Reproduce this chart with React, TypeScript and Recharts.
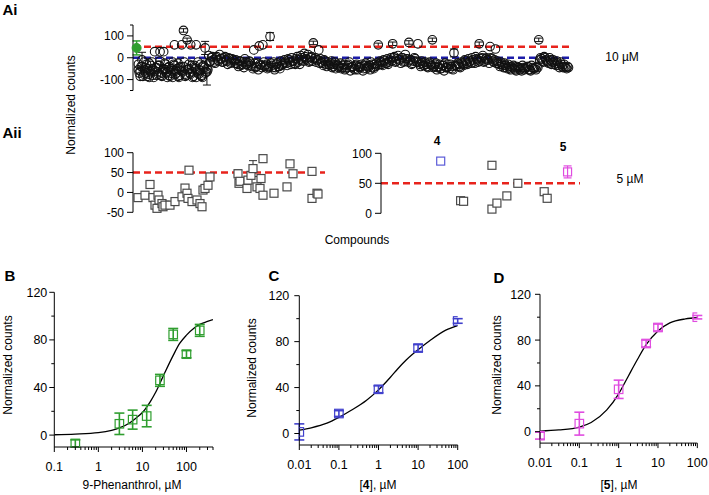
import React from "react";
import {
  ComposedChart,
  ScatterChart,
  Scatter,
  Line,
  XAxis,
  YAxis,
  ErrorBar,
  ReferenceLine
} from "recharts";

// ---- Ai: screening at 10 µM (compound order -> normalized counts)
const aiControlX = [0];
const aiControlY = [45];
const aiControlErr = [32];

// x = 1..239
const aiSeries = [
  -30, -60, -10, -75, -45, -85, -25, -65, -50, 28, -80, -35, 28, -70, 28, -55, -90, -40, -70, -20,
  59, -60, -85, -45, 59, 125, -75, 82, -50, 59, -90, -35, 59, -70, -55, -85, -40, 45, -65,
  10, -15, 5, -20, 0, -10,
  15, -5, -20, 5, -15, 0, -25, -5, -15,
  -10, -30, -15, -35, -20, -5, -30, -25,
  -20, -40, 36, -45, -25, 54, -35, 59, -40, -30, -45,
  97,
  -35, -20, -45, -25, -40, -15, -30,
  -10, -25, -5, -20, 0, -15, -30, 5, -10,
  10, -10, 20, -5, 15, -15, 5,
  68, 0, -10, 36,
  -5, -25, -10, -30, -20,
  -35, -15, -40, -20, -30, -45,
  -25, -45, -30, -50, -35, -20, -45, -40, -55, -30, -40,
  -45, -30, -50, -25, -40, -35, -20, -45, -30, -25,
  59,
  -15, -30, -10, -25, -5, -20,
  0, 64,
  5, -15, 10, -10, 0, -20, 15, -5,
  70,
  -10, -25, 0, -15,
  64,
  -30, -15, -35, -20, -40, -25, -30,
  82,
  -40, -25, -45, -30, -50, -35, -25, -45, -40, -30, -50,
  22,
  -35, -25, -40, -20, -30, -10, -25, -5, -15, 0, -20, 5, -10,
  64,
  -5, 10, -15, 0, -10,
  51, -5, -20, 40,
  -15, -30, -20, -35, -25, -45, -30, -50, -40, -35, -55, -40, -45,
  -50, -35, -55, -45, -40, -55, -35, -50, -45, -40,
  82,
  0, -15, 5, -10, -20, 0,
  -30,
  -10, -30, -15, -35, -20, -40, -30, -45, -40
];
// second replicate in the dense low band, x = 1..39
const aiBandExtra = [
  -55, -85, -40, -20, -70, -50, -90, -35, -80, -60, -45, -75, -15, -85, -50, -30, -65, -80, -50, -90,
  -35, -70, -25, -80, -60, -40, -85, -55, -30, -75, -65, -45, -90, -20, -60, -80, -35, -70, -50
];
// interleaved replicate, x = 1.5..239.5
const aiReplicate = [
  -70, -40, -85, -55, -30, -75, -60, -20, -90, -45, -65, -35, -80, -55, -25, -70, -45, -85, -60, -30,
  -75, -50, -90, -40, -65, -20, -80, -55, -70, -35, -85, -50, -60, -75, -30, -90, -45, -65, -55,
  -20, 0, -10, -25, 5, -15, -5, -20, 0, -10, -30, -5, -20, -10, -25,
  -25, -40, -15, -30, -45, -20, -35, -15,
  -35, -50, -25, -40, -55, -30, -45, -20, -35, -50, -40, -25, -45, -55, -30, -40, -50, -35, -25,
  -20, -35, -10, -30, -15, -25, -5, -20, -30,
  0, -15, 5, -10, -20, 0, -15, -5, -20, -10, -25,
  -20, -35, -15, -40, -30, -25, -45, -30, -50, -35, -40,
  -50, -35, -55, -45, -30, -60, -40, -50, -35, -55, -45, -40, -60, -35, -50, -45, -55, -30, -50, -40, -35,
  -30, -20, -35, -15, -25, -30, -10,
  -15, 0, -20, -5, -10, -25, 0, -15, -5, -20, -10, -30, -15, -5, -20,
  -20, -40, -25, -35, -30, -45, -20, -35,
  -45, -30, -55, -40, -50, -35, -60, -45, -30, -50, -40, -55, -35,
  -40, -30, -45, -25, -35, -15, -30, -20, -25, -10, -25, -5, -20,
  -15, 0, -20, -5, -10, -25, 0, -15, -10, -25,
  -25, -40, -30, -45, -35, -50, -40, -55, -45, -50, -60, -45, -55, -60, -45, -50, -40, -55, -60, -45, -50, -55, -45,
  -10, -5, -20, 0, -15, -25, -10, -20,
  -20, -35, -25, -45, -30, -45, -40, -50, -45
];
const aiErrIndex = [3, 26, 28, 38, 39, 74, 98, 134, 142, 151, 164, 176, 190, 223];
const aiErrSize = [35, 8, 8, 30, 60, 18, 8, 8, 8, 8, 8, 18, 8, 8];

// ---- Aii: 5 µM, two groups
const aiiLeftX = [5, 12, 17, 20, 22, 24, 25, 26, 29, 30, 32, 37, 42, 49, 52, 54, 55, 56, 59, 64, 67, 69, 70, 72, 75, 77,
  105, 106, 107, 114, 115, 118, 120, 124, 127, 128, 130, 130, 141, 154, 157, 160, 179, 179, 184, 185];
const aiiLeftY = [-13, -7, 20, -13, -32, -40, -7, -19, -28, -36, -32, -32, -23, -11, 11, -2, -15, 56, -23, -19, -28, -36, 6, 10, 18, 39,
  47, 23, 28, 10, 31, 43, 60, 14, 10, 35, 85, -7, -2, 14, 72, 47, 53, -15, -2, -4];
const aiiLeftErrX = [105, 120];
const aiiLeftErrY = [47, 60];
const aiiLeftErr = [10, 20];

const aiiRightX = [16, 16.6, 22.3, 22.3, 23.3, 25.3, 27.5, 32.8, 33.4];
const aiiRightY = [21, 20, 80, 7, 17, 29, 50, 36, 25];
const cmpd4X = [12];
const cmpd4Y = [87];
const cmpd5X = [37.5];
const cmpd5Y = [69];
const cmpd5Err = [10];

// ---- B: 9-Phenanthrol
const bConc = [0.3, 3, 6, 12.5, 25, 50, 100, 200];
const bResp = [-7, 9.5, 13, 16, 46, 84.6, 68, 88];
const bErr = [3, 9, 8, 9, 5, 5, 3, 5];
const bFitConc = [0.1, 0.3, 1, 2, 3, 5, 7, 10, 15, 20, 30, 50, 70, 100, 150, 200, 300, 400];
const bFitResp = [0.3, 0.8, 2, 4, 6, 10, 14, 19, 28, 36, 50, 67, 77, 84, 90, 93, 95.5, 97];

// ---- C: compound 4
const cConc = [0.01, 0.1, 1, 10, 100];
const cResp = [1.4, 17.4, 38.5, 74.4, 98];
const cErr = [7, 2.5, 3, 3, 2];
const cFitConc = [0.01, 0.02, 0.05, 0.1, 0.2, 0.5, 1, 2, 3, 5, 10, 20, 50, 100];
const cFitResp = [3, 5, 9, 14, 20, 29, 38, 49, 56, 64, 73, 81, 90, 94];

// ---- D: compound 5
const dConc = [0.01, 0.1, 1, 5, 10, 100];
const dResp = [-3.5, 7, 37, 77, 91, 100];
const dErr = [3, 10, 8, 3, 3, 1.5];
const dFitConc = [0.01, 0.03, 0.1, 0.2, 0.5, 1, 1.5, 2, 3, 5, 10, 20, 50, 100];
const dFitResp = [0.5, 1.5, 4, 8, 19, 33, 44, 52, 63, 76, 88, 95, 98.5, 99.5];

const doseYTicks = [0, 20, 40, 60, 80, 100, 120];
const doseYMajor = [0, 40, 80, 120];
const bXTicks = [0.1, 0.2, 0.3, 0.4, 0.5, 0.6, 0.7, 0.8, 0.9, 1, 2, 3, 4, 5, 6, 7, 8, 9,
  10, 20, 30, 40, 50, 60, 70, 80, 90, 100, 200, 300, 400];
const bXMajor = [0.1, 1, 10, 100];
const cdXTicks = [0.01, 0.02, 0.03, 0.04, 0.05, 0.06, 0.07, 0.08, 0.09, 0.1, 0.2, 0.3, 0.4, 0.5, 0.6, 0.7, 0.8, 0.9,
  1, 2, 3, 4, 5, 6, 7, 8, 9, 10, 20, 30, 40, 50, 60, 70, 80, 90, 100];
const cdXMajor = [0.01, 0.1, 1, 10, 100];

const GREEN = "#2f9e2f";
const BLUE = "#4040cc";
const MAGENTA = "#e04ce0";
const RED = "#e8231c";
const NAVY = "#1c1ca8";
const FONT = "'Liberation Sans', Arial, Helvetica, sans-serif";

const zip = (xs: number[], ys: number[], es?: number[]) =>
  xs.map((x, i) => ({ x, y: ys[i], e: es ? es[i] : undefined }));

const aiErrMap: Record<number, number> = {};
aiErrIndex.forEach((idx, i) => (aiErrMap[idx] = aiErrSize[i]));
const aiData = aiSeries.map((v, i) => ({ x: i + 1, y: v, e: aiErrMap[i + 1] }));
const aiExtraData = aiBandExtra.map((v, i) => ({ x: i + 1, y: v }));
const aiRepData = aiReplicate.map((v, i) => ({ x: i + 1.5, y: v }));

function makeYTick(major: number[], fs: number, gap: number, tlen = 5) {
  return (p: any) => {
    const v = p.payload.value;
    const isMajor = major.includes(v);
    return (
      <g>
        <line x1={p.x} x2={p.x - (isMajor ? tlen : 3)} y1={p.y} y2={p.y} stroke="#000" strokeWidth={1} />
        {isMajor && (
          <text x={p.x - gap} y={p.y} dy={fs * 0.36} textAnchor="end" fontSize={fs} fill="#000">
            {v}
          </text>
        )}
      </g>
    );
  };
}

function makeXTick(major: number[], fs: number, dy: number) {
  return (p: any) => {
    const v = p.payload.value;
    const isMajor = major.some((m) => Math.abs(m - v) < 1e-9);
    return (
      <g>
        <line x1={p.x} x2={p.x} y1={p.y} y2={p.y + (isMajor ? 5 : 3)} stroke="#000" strokeWidth={1} />
        {isMajor && (
          <text x={p.x} y={p.y + dy} textAnchor="middle" fontSize={fs} fill="#000">
            {String(v)}
          </text>
        )}
      </g>
    );
  };
}

const circleShape = (p: any) => (
  <circle cx={p.cx} cy={p.cy} r={4.3} fill="none" stroke="#111" strokeWidth={1.1} />
);
const dotShape = (color: string) => (p: any) => (
  <circle cx={p.cx} cy={p.cy} r={4.5} fill={color} stroke={color} />
);
const squareShape = (color: string, fill: string, s = 8) => (p: any) => (
  <rect x={p.cx - s / 2} y={p.cy - s / 2} width={s} height={s} fill={fill} stroke={color} strokeWidth={1.2} />
);

const Txt = ({ x, y, size = 12, bold = false, rotate = false, children }: any) => (
  <div
    style={{
      position: "absolute",
      left: x,
      top: y,
      fontSize: size,
      fontWeight: bold ? 700 : 400,
      whiteSpace: "nowrap",
      lineHeight: 1,
      transform: `translate(-50%, -50%)${rotate ? " rotate(-90deg)" : ""}`
    }}
  >
    {children}
  </div>
);

function DoseChart(props: any) {
  const { left, top, width, height, margin, yWidth, xDomain, xTicks, xMajor, pts, curve, color, yGap } = props;
  return (
    <div style={{ position: "absolute", left, top }}>
      <ComposedChart width={width} height={height} margin={margin}>
        <XAxis
          dataKey="x"
          type="number"
          scale="log"
          domain={xDomain}
          allowDataOverflow
          ticks={xTicks}
          interval={0}
          tickSize={0}
          tickMargin={0}
          tickLine={false}
          axisLine={{ stroke: "#000" }}
          tick={makeXTick(xMajor, 12.5, 24)}
          height={30}
        />
        <YAxis
          dataKey="y"
          type="number"
          domain={[-10, 120]}
          allowDataOverflow
          ticks={doseYTicks}
          interval={0}
          tickSize={0}
          tickMargin={0}
          tickLine={false}
          axisLine={{ stroke: "#000" }}
          tick={makeYTick(doseYMajor, 12.5, yGap)}
          width={yWidth}
        />
        <Line
          data={curve}
          dataKey="y"
          type="monotone"
          stroke="#000"
          strokeWidth={1.3}
          dot={false}
          isAnimationActive={false}
        />
        <Scatter data={pts} dataKey="y" shape={squareShape(color, "none", 8.5)} isAnimationActive={false}>
          <ErrorBar dataKey="e" direction="y" width={5} stroke={color} strokeWidth={1.6} />
        </Scatter>
      </ComposedChart>
    </div>
  );
}

export default function App() {
  return (
    <div
      style={{
        position: "absolute",
        left: 0,
        top: 0,
        width: 709,
        height: 495,
        background: "#fff",
        fontFamily: FONT,
        color: "#000",
        overflow: "hidden"
      }}
    >
      {/* Ai */}
      <div style={{ position: "absolute", left: 0, top: 0 }}>
        <ScatterChart width={580} height={100} margin={{ top: 25, right: 7, bottom: 9.5, left: 0 }}>
          <XAxis dataKey="x" type="number" domain={[-2, 242]} hide />
          <YAxis
            dataKey="y"
            type="number"
            domain={[-150, 150]}
            allowDataOverflow
            ticks={[-150, -100, 0, 100, 150]}
            interval={0}
            tickSize={0}
            tickMargin={0}
            tickLine={false}
            axisLine={{ stroke: "#000" }}
            tick={makeYTick([-100, 0, 100], 12, 9, 6)}
            width={133}
          />
          <Scatter data={aiExtraData} shape={circleShape} isAnimationActive={false} />
          <Scatter data={aiRepData} shape={circleShape} isAnimationActive={false} />
          <Scatter data={aiData} shape={circleShape} isAnimationActive={false}>
            <ErrorBar dataKey="e" direction="y" width={4} stroke="#111" strokeWidth={1} />
          </Scatter>
          <Scatter data={zip(aiControlX, aiControlY, aiControlErr)} shape={dotShape(GREEN)} isAnimationActive={false}>
            <ErrorBar dataKey="e" direction="y" width={4} stroke={GREEN} strokeWidth={1.5} />
          </Scatter>
          <ReferenceLine y={50} stroke={RED} strokeWidth={2.5} strokeDasharray="7 4" />
          <ReferenceLine y={0} stroke={NAVY} strokeWidth={2.5} strokeDasharray="7 4" />
        </ScatterChart>
      </div>

      {/* Aii left */}
      <div style={{ position: "absolute", left: 80, top: 140 }}>
        <ScatterChart width={250} height={85} margin={{ top: 12.7, right: 5, bottom: 12.7, left: 0 }}>
          <XAxis dataKey="x" type="number" domain={[0, 192]} hide />
          <YAxis
            dataKey="y"
            type="number"
            domain={[-50, 100]}
            ticks={[-50, 0, 50, 100]}
            interval={0}
            tickSize={0}
            tickMargin={0}
            tickLine={false}
            axisLine={{ stroke: "#000" }}
            tick={makeYTick([-50, 0, 50, 100], 12, 9, 6)}
            width={53}
          />
          <Scatter data={zip(aiiLeftErrX, aiiLeftErrY, aiiLeftErr)} shape={() => <g />} isAnimationActive={false}>
            <ErrorBar dataKey="e" direction="y" width={4} stroke="#333" strokeWidth={1} />
          </Scatter>
          <Scatter data={zip(aiiLeftX, aiiLeftY)} shape={squareShape("#4a4a4a", "#fff", 8)} isAnimationActive={false} />
          <ReferenceLine y={50} stroke={RED} strokeWidth={2.5} strokeDasharray="7 4" />
        </ScatterChart>
      </div>

      {/* Aii right */}
      <div style={{ position: "absolute", left: 330, top: 140 }}>
        <ScatterChart width={255} height={85} margin={{ top: 13.3, right: 5, bottom: 11.7, left: 0 }}>
          <XAxis dataKey="x" type="number" domain={[0, 40]} hide />
          <YAxis
            dataKey="y"
            type="number"
            domain={[0, 100]}
            ticks={[0, 50, 100]}
            interval={0}
            tickSize={0}
            tickMargin={0}
            tickLine={false}
            axisLine={{ stroke: "#000" }}
            tick={makeYTick([0, 50, 100], 12, 9, 6)}
            width={51}
          />
          <Scatter data={zip(aiiRightX, aiiRightY)} shape={squareShape("#4a4a4a", "#fff", 8)} isAnimationActive={false} />
          <Scatter data={zip(cmpd4X, cmpd4Y)} shape={squareShape("#5a5ad8", "#fff", 8)} isAnimationActive={false} />
          <Scatter data={zip(cmpd5X, cmpd5Y, cmpd5Err)} shape={squareShape(MAGENTA, "none", 8)} isAnimationActive={false}>
            <ErrorBar dataKey="e" direction="y" width={4} stroke={MAGENTA} strokeWidth={1.2} />
          </Scatter>
          <ReferenceLine y={50} stroke={RED} strokeWidth={2.5} strokeDasharray="7 4" />
        </ScatterChart>
      </div>

      {/* B */}
      <DoseChart
        left={0}
        top={280}
        width={230}
        height={215}
        margin={{ top: 12.3, right: 17, bottom: 18, left: 0 }}
        yWidth={54.3}
        xDomain={[0.1, 400]}
        xTicks={bXTicks}
        xMajor={bXMajor}
        pts={zip(bConc, bResp, bErr)}
        curve={zip(bFitConc, bFitResp)}
        color={GREEN}
        yGap={7}
      />
      {/* C */}
      <DoseChart
        left={240}
        top={280}
        width={236}
        height={215}
        margin={{ top: 15.7, right: 18.3, bottom: 20, left: 0 }}
        yWidth={59.3}
        xDomain={[0.01, 100]}
        xTicks={cdXTicks}
        xMajor={cdXMajor}
        pts={zip(cConc, cResp, cErr)}
        curve={zip(cFitConc, cFitResp)}
        color={BLUE}
        yGap={10}
      />
      {/* D */}
      <DoseChart
        left={480}
        top={280}
        width={229}
        height={215}
        margin={{ top: 14.3, right: 11.7, bottom: 21.9, left: 0 }}
        yWidth={60}
        xDomain={[0.01, 100]}
        xTicks={cdXTicks}
        xMajor={cdXMajor}
        pts={zip(dConc, dResp, dErr)}
        curve={zip(dFitConc, dFitResp)}
        color={MAGENTA}
        yGap={9}
      />

      {/* labels */}
      <Txt x={10} y={9} size={15} bold>Ai</Txt>
      <Txt x={12} y={132} size={15} bold>Aii</Txt>
      <Txt x={10} y={275} size={15} bold>B</Txt>
      <Txt x={274} y={275} size={15} bold>C</Txt>
      <Txt x={499} y={277} size={15} bold>D</Txt>

      <Txt x={71} y={105} rotate>Normalized counts</Txt>
      <Txt x={622} y={57}>10 µM</Txt>
      <Txt x={630} y={179}>5 µM</Txt>
      <Txt x={357} y={240}>Compounds</Txt>
      <Txt x={437} y={141} size={12} bold>4</Txt>
      <Txt x={563} y={147} size={12} bold>5</Txt>

      <Txt x={8} y={365} rotate>Normalized counts</Txt>
      <Txt x={252} y={368} rotate>Normalized counts</Txt>
      <Txt x={497} y={365} rotate>Normalized counts</Txt>
      <Txt x={132} y={485}>9-Phenanthrol, µM</Txt>
      <Txt x={378} y={485}>[<b>4</b>], µM</Txt>
      <Txt x={619} y={485}>[<b>5</b>], µM</Txt>
    </div>
  );
}
